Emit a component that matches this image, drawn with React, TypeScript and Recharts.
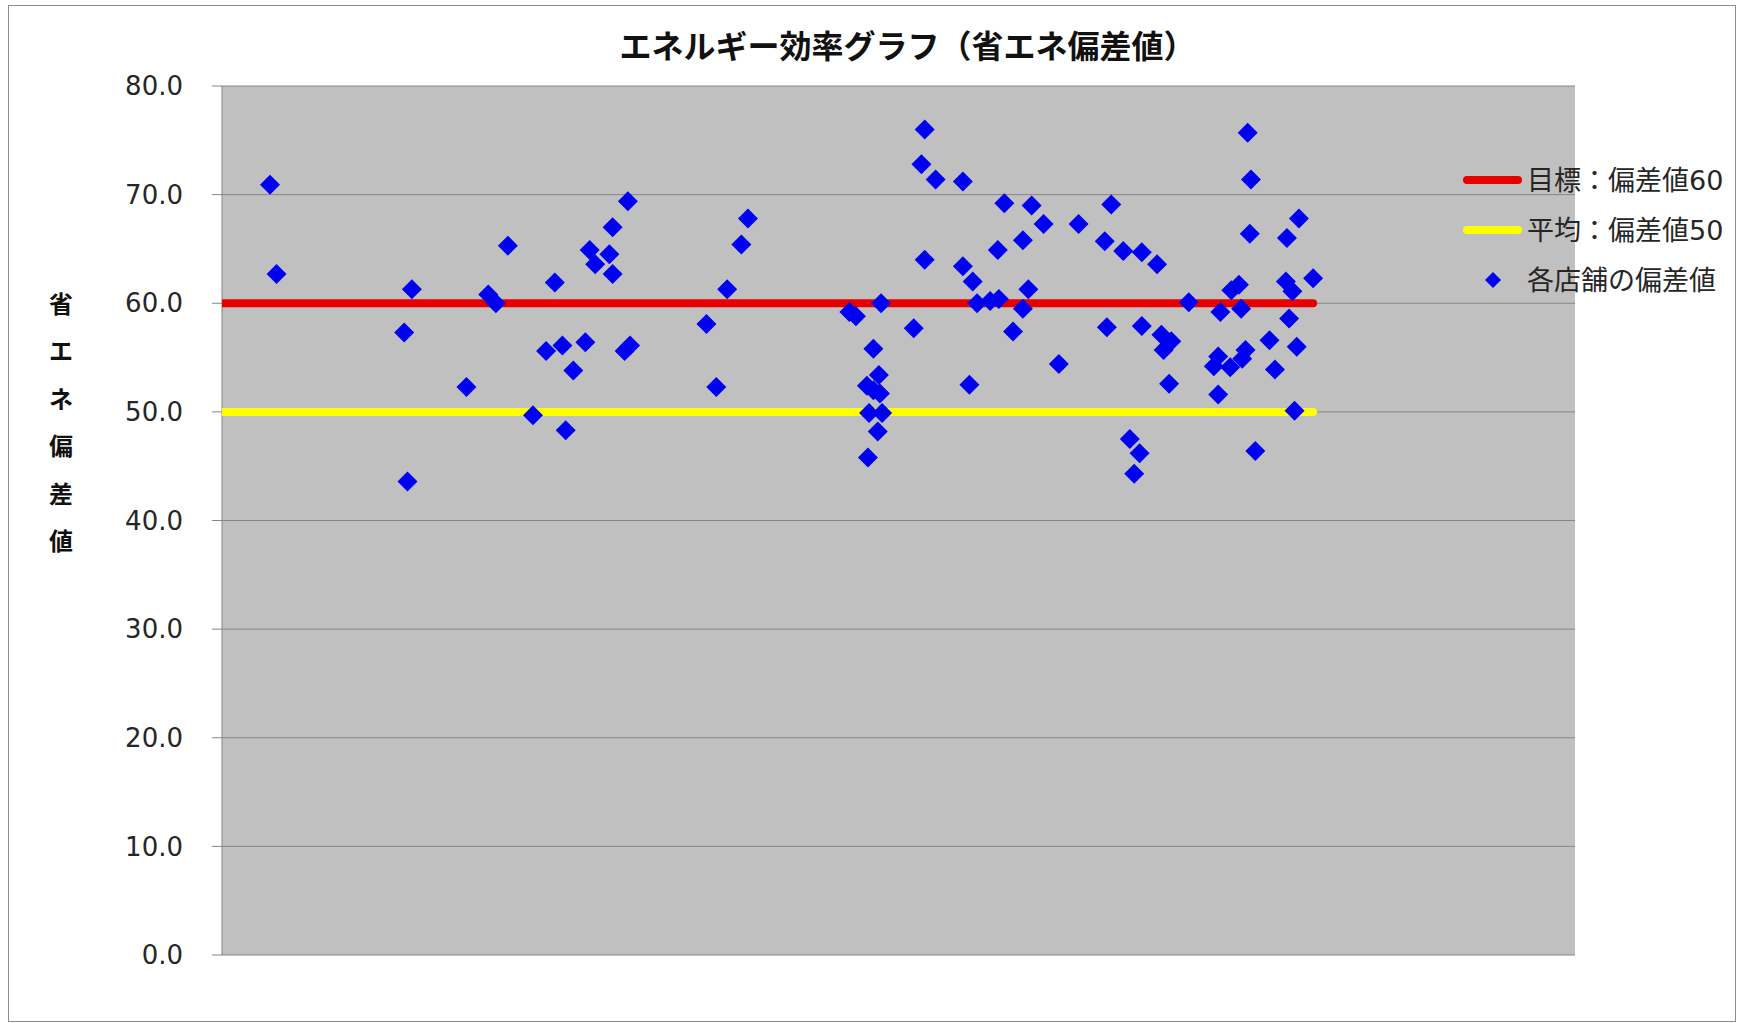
import { CartesianGrid, Legend, Scatter, ScatterChart, XAxis, YAxis } from "recharts";

const chartTitle = "エネルギー効率グラフ（省エネ偏差値）";
const yAxisTitle = "省エネ偏差値";
const yTicks = [0, 10, 20, 30, 40, 50, 60, 70, 80];

const targetName = "目標：偏差値60";
const averageName = "平均：偏差値50";
const storeName = "各店舗の偏差値";

const targetScore = 60;
const averageScore = 50;
// the two reference lines run from the axis to the last store
const lineSpan = [0, 100];

// store position along the horizontal axis
const storeX = [
  4.4, 5.0, 16.7, 17.0, 17.4, 22.4, 24.4, 25.1, 26.2, 28.5,
  29.7, 30.5, 31.2, 31.5, 32.2, 33.3, 33.7, 34.2, 35.5, 35.8,
  35.8, 36.9, 37.2, 37.4, 44.4, 45.3, 46.3, 47.6, 48.2,
  57.5, 58.1, 59.1, 59.2, 59.3, 59.7, 59.7, 60.1, 60.2, 60.3, 60.4, 60.5,
  63.4, 64.1, 64.4, 64.4, 65.4,
  67.9, 67.9, 68.5, 68.8, 69.2, 70.4, 71.1, 71.2, 71.7, 72.5, 73.4, 73.4, 73.9, 74.2, 75.3,
  76.7, 78.5,
  80.9, 81.1, 81.5, 82.6, 83.2, 83.6, 84.1, 84.3, 84.3, 85.7, 86.1, 86.3, 86.8, 87.0, 88.6,
  90.9, 91.3, 91.3, 91.5, 92.4, 92.5, 93.2, 93.4, 93.5, 93.8, 94.0, 94.2, 94.3, 94.7,
  96.0, 96.5, 97.5, 97.6, 97.8, 98.1, 98.3, 98.5, 98.7, 100.0,
];

// 省エネ偏差値 of each store, same order as storeX
const storeScore = [
  70.9, 62.7, 57.3, 43.6, 61.3, 52.3, 60.8, 60.0, 65.3, 49.7,
  55.6, 61.9, 56.1, 48.3, 53.8, 56.4, 64.9, 63.6, 64.5, 67.0,
  62.7, 55.6, 69.4, 56.1, 58.1, 52.3, 61.3, 65.4, 67.8,
  59.2, 58.8, 52.4, 45.8, 49.9, 55.8, 52.0, 48.2, 53.4, 51.7, 60.0, 49.9,
  57.7, 72.8, 76.0, 64.0, 71.4,
  71.2, 63.4, 52.5, 62.0, 60.0, 60.2, 64.9, 60.4, 69.2, 57.4, 65.8, 59.5, 61.3, 69.0, 67.3,
  54.4, 67.3,
  65.7, 57.8, 69.1, 64.8, 47.5, 44.3, 46.2, 64.7, 57.9, 63.6, 57.1, 55.7, 52.6, 56.5, 60.1,
  54.2, 55.1, 51.6, 59.2, 54.1, 61.2, 61.7, 59.5, 54.9, 55.7, 75.7, 66.4, 71.4, 46.4,
  56.6, 53.9, 62.0, 66.0, 58.6, 61.1, 50.1, 56.0, 67.8, 62.3,
];

const RED = "#E60000";
const YELLOW = "#FFFF00";
const BLUE = "#0000F0";
const GRID = "#868686";
const TEXT = "#262626";
const FONT = '"DejaVu Sans", "Noto Sans CJK JP", sans-serif';
const FONT_JA = '"Noto Sans CJK JP", "DejaVu Sans", sans-serif';

const storeData = storeX.map((x, i) => ({ x, y: storeScore[i] }));
const targetData = lineSpan.map((x) => ({ x, y: targetScore }));
const averageData = lineSpan.map((x) => ({ x, y: averageScore }));

function Diamond(props: any) {
  const { cx, cy } = props;
  if (cx == null || cy == null) return <g />;
  const r = 10;
  return <polygon points={`${cx},${cy - r} ${cx + r},${cy} ${cx},${cy + r} ${cx - r},${cy}`} fill={BLUE} />;
}

function NoMarker() {
  return <g />;
}

// axis title written top to bottom, one character per row
function VerticalTitle() {
  const chars = Array.from(yAxisTitle);
  return (
    <text x={61} y={302} textAnchor="middle" fontFamily={FONT_JA} fontWeight={700} fontSize={24} fill="#111">
      {chars.map((c, i) => (
        <tspan key={i} x={61} y={302 + i * 47.5} dominantBaseline="central">
          {c}
        </tspan>
      ))}
    </text>
  );
}

const legendRows = [
  { name: targetName, kind: "line", color: RED },
  { name: averageName, kind: "line", color: YELLOW },
  { name: storeName, kind: "marker", color: BLUE },
];

function LegendBox() {
  return (
    <div style={{ fontFamily: FONT, fontSize: 27, color: TEXT }}>
      {legendRows.map((row) => (
        <div key={row.name} style={{ display: "flex", alignItems: "center", height: 50 }}>
          <svg width={67} height={20} style={{ display: "block" }}>
            {row.kind === "line" ? (
              <line x1={7} y1={10} x2={58} y2={10} stroke={row.color} strokeWidth={8} strokeLinecap="round" />
            ) : (
              <polygon points="33,2 41,10 33,18 25,10" fill={row.color} />
            )}
          </svg>
          <span style={{ whiteSpace: "nowrap", lineHeight: 1 }}>{row.name}</span>
        </div>
      ))}
    </div>
  );
}

export default function App() {
  return (
    <div style={{ position: "relative", width: 1739, height: 1023, background: "#fff" }}>
      <style>{"body{margin:0}"}</style>
      <div
        style={{
          position: "absolute",
          left: 8,
          top: 5,
          width: 1726,
          height: 1015,
          border: "1px solid #8c8c8c",
          pointerEvents: "none",
        }}
      />
      <div
        style={{
          position: "absolute",
          left: 231,
          width: 1353,
          top: 28,
          textAlign: "center",
          fontFamily: FONT_JA,
          fontWeight: 700,
          fontSize: 32,
          lineHeight: "32px",
          color: "#111",
        }}
      >
        {chartTitle}
      </div>
      <ScatterChart width={1739} height={1023} margin={{ top: 86, right: 164, bottom: 68, left: 0 }}>
        <CartesianGrid vertical={false} stroke={GRID} fill="#C0C0C0" fillOpacity={1} />
        <XAxis type="number" dataKey="x" domain={[0, 124]} allowDataOverflow hide />
        <YAxis
          type="number"
          dataKey="y"
          domain={[0, 80]}
          ticks={yTicks}
          interval={0}
          width={222}
          tickSize={10}
          tickMargin={29}
          stroke={GRID}
          tick={{ fill: TEXT, fontSize: 26, fontFamily: FONT }}
          tickFormatter={(v: number) => v.toFixed(1)}
          label={() => <VerticalTitle />}
        />
        <Legend
          layout="horizontal"
          align="center"
          verticalAlign="middle"
          wrapperStyle={{ left: 1460, top: 155, width: 279 }}
          content={() => <LegendBox />}
        />
        <Scatter
          name={targetName}
          data={targetData}
          fill={RED}
          line={{ stroke: RED, strokeWidth: 8, strokeLinecap: "round" }}
          lineType="joint"
          shape={<NoMarker />}
          isAnimationActive={false}
        />
        <Scatter
          name={averageName}
          data={averageData}
          fill={YELLOW}
          line={{ stroke: YELLOW, strokeWidth: 8, strokeLinecap: "round" }}
          lineType="joint"
          shape={<NoMarker />}
          isAnimationActive={false}
        />
        <Scatter name={storeName} data={storeData} fill={BLUE} shape={<Diamond />} isAnimationActive={false} />
      </ScatterChart>
    </div>
  );
}
